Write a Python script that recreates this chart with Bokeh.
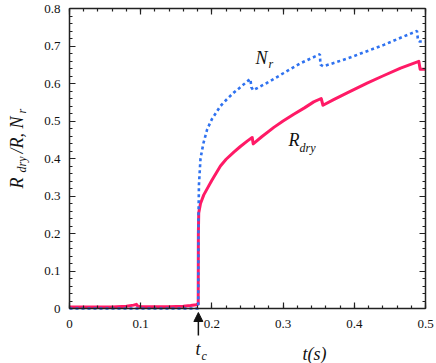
from bokeh.plotting import figure
from bokeh.models import (LinearAxis, SingleIntervalTicker, Range1d, Label,
                          Arrow, NormalHead, CustomJSTickFormatter)
from bokeh.embed import file_html
from bokeh.resources import INLINE
import math

# ---- data ----
t_rdry = [0.0, 0.02, 0.04, 0.06, 0.08, 0.09, 0.094, 0.096, 0.10, 0.12, 0.14, 0.16,
          0.17, 0.178, 0.1808, 0.1810, 0.1815, 0.184, 0.1886, 0.195, 0.200, 0.212,
          0.220, 0.2308, 0.240, 0.250, 0.2566, 0.258, 0.270, 0.287, 0.300, 0.315,
          0.330, 0.343, 0.3535, 0.3560, 0.371, 0.390, 0.418, 0.440, 0.465, 0.4906,
          0.4925, 0.500]
r_dry = [0.004, 0.004, 0.004, 0.004, 0.006, 0.009, 0.011, 0.006, 0.005, 0.005, 0.005,
         0.006, 0.008, 0.010, 0.012, 0.20, 0.255, 0.280, 0.303, 0.325, 0.342, 0.380,
         0.398, 0.417, 0.432, 0.447, 0.456, 0.439, 0.458, 0.483, 0.500, 0.518,
         0.535, 0.551, 0.560, 0.542, 0.557, 0.575, 0.601, 0.620, 0.641, 0.659,
         0.638, 0.638]

t_nr = [0.0, 0.05, 0.10, 0.15, 0.1808, 0.1812, 0.1818, 0.184, 0.188, 0.1934, 0.200,
        0.212, 0.220, 0.2303, 0.240, 0.2505, 0.254, 0.2555, 0.258, 0.2777, 0.301,
        0.3244, 0.3516, 0.3525, 0.356, 0.375, 0.395, 0.4415, 0.465, 0.488, 0.4895,
        0.4916, 0.500]
n_r = [0.0, 0.0, 0.0, 0.0, 0.0, 0.25, 0.33, 0.40, 0.44, 0.478, 0.505, 0.540, 0.556,
       0.575, 0.590, 0.607, 0.612, 0.590, 0.582, 0.602, 0.628, 0.654, 0.678, 0.650,
       0.646, 0.657, 0.670, 0.703, 0.722, 0.740, 0.715, 0.712, 0.712]

t_c = 0.181

x_lo, x_hi = 0.0, 0.5
y_lo, y_hi = 0.0, 0.8
tick_step = 0.1

PINK = "#ff1a66"
BLUE = "#2f72f0"
SERIF = "Liberation Serif"

# canvas layout (pixels): data box spans x 69..425, y 8..308 of a 436x363 canvas
W, H = 436, 363
BX0, BX1, BY0, BY1 = 69, 425, 8, 308
sx = (BX1 - BX0) / (x_hi - x_lo)
sy = (BY1 - BY0) / (y_hi - y_lo)
xr = Range1d(x_lo - BX0 / sx, x_hi + (W - BX1) / sx)
yr = Range1d(y_lo - (H - BY1) / sy, y_hi + BY0 / sy)

p = figure(width=W, height=H, output_backend="svg", toolbar_location=None,
           x_range=xr, y_range=yr, min_border=0,
           x_axis_location=None, y_axis_location=None)
p.grid.visible = False
p.outline_line_color = None
p.background_fill_color = "white"
p.border_fill_color = "white"


def make_axis(fixed, bounds, show_labels):
    ax = LinearAxis(ticker=SingleIntervalTicker(interval=tick_step, num_minor_ticks=5),
                    fixed_location=fixed, bounds=bounds)
    ax.axis_line_color = "#222222"
    ax.axis_line_width = 1.5
    ax.major_tick_in = 6
    ax.major_tick_out = 0
    ax.minor_tick_in = 3
    ax.minor_tick_out = 0
    ax.major_tick_line_color = "#222222"
    ax.minor_tick_line_color = "#222222"
    ax.major_tick_line_width = 1.2
    ax.minor_tick_line_width = 1.2
    ax.major_label_text_font = SERIF
    ax.major_label_text_font_size = "13px"
    ax.major_label_text_color = "#111111"
    if not show_labels:
        ax.formatter = CustomJSTickFormatter(code="return ''")
        ax.major_label_standoff = 0
    return ax


bx = make_axis(y_lo, (x_lo, x_hi), True)
bx.major_label_standoff = 11
ly = make_axis(x_lo, (y_lo, y_hi), True)
ly.major_label_standoff = 9
p.add_layout(bx, "below")
p.add_layout(ly, "left")
p.add_layout(make_axis(y_hi, (x_lo, x_hi), False), "above")
p.add_layout(make_axis(x_hi, (y_lo, y_hi), False), "right")

p.line(t_rdry, r_dry, line_color=PINK, line_width=3, line_join="round")
p.line(t_nr, n_r, line_color=BLUE, line_width=2.6, line_dash="3 3")


# ---- annotations (placed via page-pixel offsets converted to data) ----
def px(x):
    return x_lo + (x - BX0) / sx


def py(y):
    return y_lo + (BY1 - y) / sy


def lab(x, y, text, size, angle=0.0):
    p.add_layout(Label(x=px(x), y=py(y), text=text, text_font=SERIF,
                       text_font_size=size, angle=angle,
                       text_font_style="italic",
                       text_color="#111111", text_align="left",
                       text_baseline="alphabetic"))

lab(255, 57, "N", "18px")
lab(268, 63, "r", "12px")
lab(288, 139, "R", "18px")
lab(299, 147, "dry", "12px")

# y-axis title (rotated, with subscripts)
a = math.pi / 2
lab(16, 188, "R", "18px", a)
lab(21, 172, "dry", "12px", a)
lab(16, 153, "/R, N", "18px", a)
lab(21, 113, "r", "12px", a)

# x-axis title
lab(302, 353, "t(s)", "18px")

# t_c marker
p.add_layout(Arrow(end=NormalHead(size=9, fill_color="#111111", line_color="#111111"),
                   x_start=t_c, y_start=py(335), x_end=t_c, y_end=py(312),
                   line_color="#111111", line_width=1.5))
lab(195, 348, "t", "18px")
lab(201, 355, "c", "12px")

open("out.html", "w").write(file_html(p, INLINE))
